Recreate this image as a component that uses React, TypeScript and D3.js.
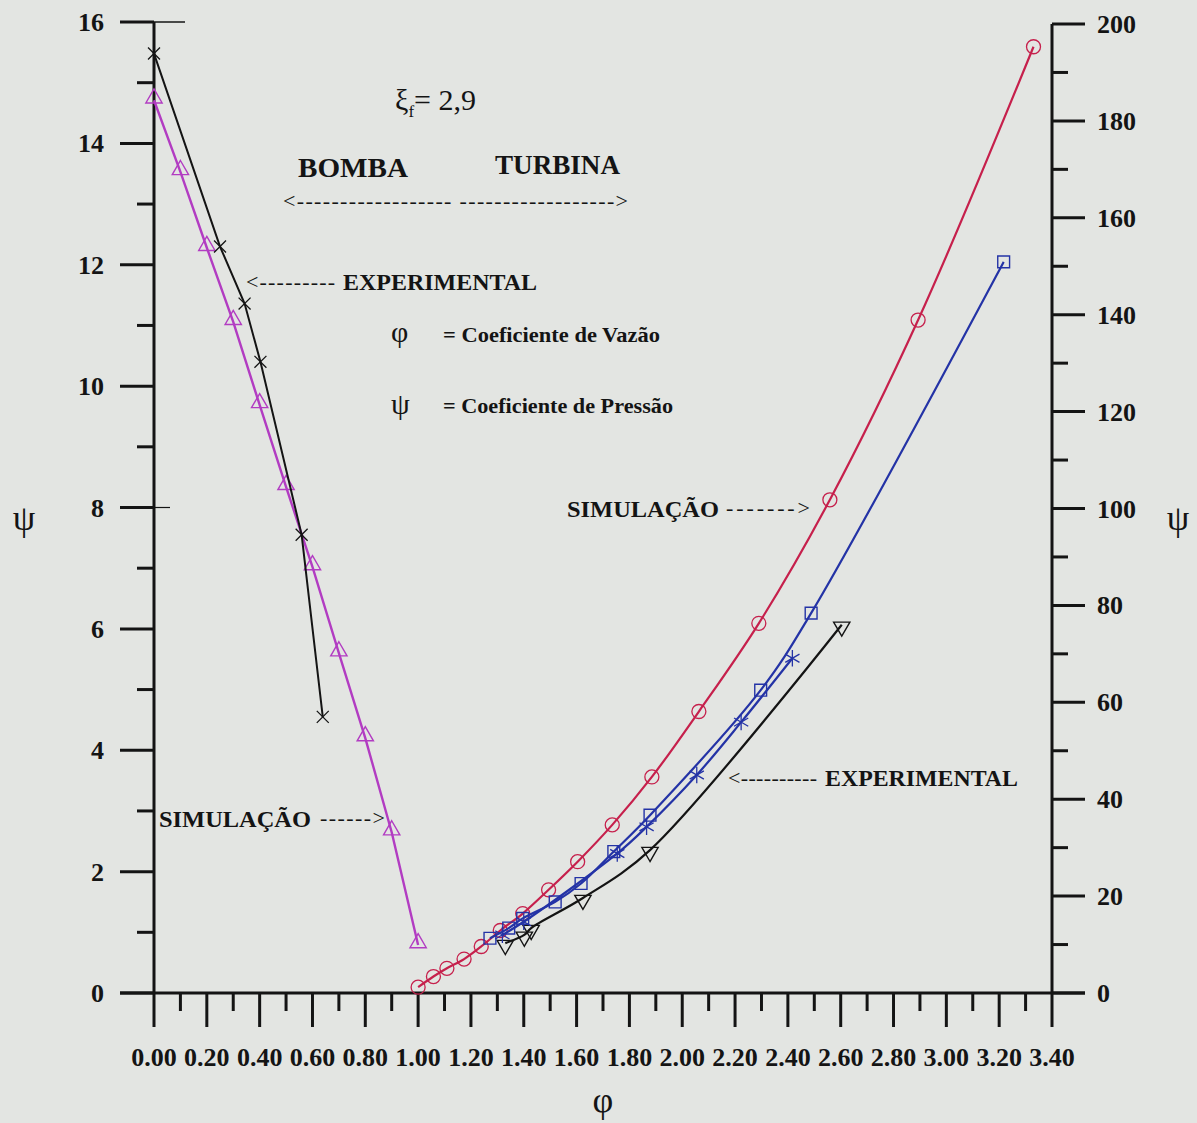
import React from "react";
import * as d3 from "d3";

// Axis tick labels
const xTickLabels = ["0.00", "0.20", "0.40", "0.60", "0.80", "1.00", "1.20", "1.40", "1.60", "1.80", "2.00", "2.20", "2.40", "2.60", "2.80", "3.00", "3.20", "3.40"];
const leftTickLabels = ["0", "2", "4", "6", "8", "10", "12", "14", "16"];
const rightTickLabels = ["0", "20", "40", "60", "80", "100", "120", "140", "160", "180", "200"];

// Pump operation (left axis): simulation (triangles) and experiment (crosses)
const pumpSimPhi = [0, 0.1, 0.2, 0.3, 0.4, 0.5, 0.6, 0.7, 0.8, 0.9, 1.0];
const pumpSimPsi = [14.71, 13.53, 12.28, 11.06, 9.69, 8.34, 7.02, 5.6, 4.2, 2.65, 0.79];
const pumpExpPhi = [0, 0.25, 0.343, 0.403, 0.559, 0.639];
const pumpExpPsi = [15.48, 12.3, 11.36, 10.4, 7.55, 4.55];

// Turbine operation (right axis)
const turbCirclePhi = [1.0, 1.058, 1.109, 1.174, 1.239, 1.311, 1.396, 1.494, 1.604, 1.735, 1.885, 2.063, 2.29, 2.559, 2.893, 3.33];
const turbCirclePsi = [1.2, 3.4, 5.1, 7.0, 9.6, 12.9, 16.4, 21.3, 27.1, 34.7, 44.6, 58.1, 76.3, 101.8, 138.9, 195.3];
const turbSquarePhi = [1.272, 1.343, 1.396, 1.519, 1.617, 1.741, 1.878, 2.297, 2.488, 3.217];
const turbSquarePsi = [11.3, 13.4, 15.4, 18.8, 22.6, 29.2, 36.7, 62.5, 78.4, 150.9];
const turbStarPhi = [1.319, 1.4, 1.754, 1.865, 2.055, 2.223, 2.417];
const turbStarPsi = [12.0, 14.7, 28.8, 34.3, 45.0, 55.9, 69.1];
const turbExpPhi = [1.33, 1.402, 1.428, 1.624, 1.878, 2.604];
const turbExpPsi = [10.3, 12.0, 13.4, 19.6, 29.5, 76.0];

const FONT = "'Liberation Serif', 'Times New Roman', serif";
const INK = "#141414";
const MAGENTA = "#b23cc2";
const RED = "#c6204c";
const BLUE = "#2433a6";

const zip = (a: number[], b: number[]) => a.map((v, i) => [v, b[i]] as [number, number]);

export default function App() {
  const W = 1197;
  const H = 1123;
  const x = d3.scaleLinear().domain([0, 3.4]).range([154, 1052]);
  const yL = d3.scaleLinear().domain([0, 16]).range([993, 22]);
  const yR = d3.scaleLinear().domain([0, 200]).range([993, 24]);

  const x0 = x(0);
  const x1 = x(3.4);
  const yb = yL(0);

  const lineL = d3.line<[number, number]>().x((d) => x(d[0])).y((d) => yL(d[1]));
  const lineR = d3
    .line<[number, number]>()
    .x((d) => x(d[0]))
    .y((d) => yR(d[1]))
    .curve(d3.curveCatmullRom.alpha(0.5));

  const triPath = d3.symbol().type(d3.symbolTriangle).size(115)() as string;
  const timesType = (d3 as any).symbolTimes ?? d3.symbolCross;
  const crossPath = d3.symbol().type(timesType).size(95)() as string;
  const squarePath = d3.symbol().type(d3.symbolSquare).size(140)() as string;
  const starType = (d3 as any).symbolAsterisk ?? d3.symbolCross;
  const starPath = d3.symbol().type(starType).size(190)() as string;

  const xMinor = d3.range(0, 35).map((i) => i / 10);
  const leftMinor = d3.range(0, 17);
  const rightMinor = d3.range(0, 201, 10);

  const pumpSim = zip(pumpSimPhi, pumpSimPsi);
  const pumpExp = zip(pumpExpPhi, pumpExpPsi);
  const circ = zip(turbCirclePhi, turbCirclePsi);
  const sq = zip(turbSquarePhi, turbSquarePsi);
  const st = zip(turbStarPhi, turbStarPsi);
  const ex = zip(turbExpPhi, turbExpPsi);

  return (
    <svg
      width={W}
      height={H}
      viewBox={`0 0 ${W} ${H}`}
      style={{ position: "absolute", left: 0, top: 0, display: "block" }}
      fontFamily={FONT}
    >
      <rect x={0} y={0} width={W} height={H} fill="#e3e5e2" />

      {/* Axes */}
      <g stroke={INK} strokeWidth={3} strokeLinecap="butt">
        <line x1={x0} y1={yL(16)} x2={x0} y2={yb} />
        <line x1={x1} y1={yR(200)} x2={x1} y2={yb} />
        <line x1={120} y1={yb} x2={1085} y2={yb} />
        {leftMinor.map((v) => (
          <line key={"l" + v} x1={v % 2 === 0 ? 120 : 137} x2={x0} y1={yL(v)} y2={yL(v)} />
        ))}
        {rightMinor.map((v) => (
          <line key={"r" + v} x1={x1} x2={v % 20 === 0 ? 1085 : 1068} y1={yR(v)} y2={yR(v)} />
        ))}
        {xMinor.map((v, i) => (
          <line key={"x" + i} x1={x(v)} x2={x(v)} y1={yb} y2={i % 2 === 0 ? yb + 34 : yb + 18} />
        ))}
      </g>
      <line x1={x0} x2={185} y1={yL(16)} y2={yL(16)} stroke={INK} strokeWidth={1.5} />
      <line x1={x0} x2={170} y1={yL(8)} y2={yL(8)} stroke={INK} strokeWidth={1.2} />

      {/* Tick labels */}
      <g fontSize={26} fontWeight="bold" fill={INK}>
        {xTickLabels.map((t) => (
          <text key={"xt" + t} x={x(+t)} y={1066} textAnchor="middle">
            {t}
          </text>
        ))}
        {leftTickLabels.map((t) => (
          <text key={"lt" + t} x={104} y={yL(+t) + 9} textAnchor="end">
            {t}
          </text>
        ))}
        {rightTickLabels.map((t) => (
          <text key={"rt" + t} x={1097} y={yR(+t) + 9} textAnchor="start">
            {t}
          </text>
        ))}
      </g>

      {/* Axis titles */}
      <g fontSize={36} fill={INK}>
        <text x={24} y={530} textAnchor="middle">ψ</text>
        <text x={1178} y={530} textAnchor="middle">ψ</text>
        <text x={603} y={1112} textAnchor="middle">φ</text>
      </g>

      {/* Pump side */}
      <path d={lineL(pumpSim) ?? ""} fill="none" stroke={MAGENTA} strokeWidth={2.4} />
      {pumpSim.map((d, i) => (
        <path key={"ps" + i} d={triPath} transform={`translate(${x(d[0])},${yL(d[1]) - 2})`} fill="none" stroke={MAGENTA} strokeWidth={1.4} />
      ))}
      <path d={lineL(pumpExp) ?? ""} fill="none" stroke={INK} strokeWidth={2} />
      {pumpExp.map((d, i) => (
        <path key={"pe" + i} d={crossPath} transform={`translate(${x(d[0])},${yL(d[1])})`} fill="none" stroke={INK} strokeWidth={1.3} />
      ))}

      {/* Turbine side */}
      <path d={lineR(circ) ?? ""} fill="none" stroke={RED} strokeWidth={2.2} />
      {circ.map((d, i) => (
        <circle key={"c" + i} cx={x(d[0])} cy={yR(d[1])} r={7} fill="none" stroke={RED} strokeWidth={1.3} />
      ))}
      <path d={lineR(ex) ?? ""} fill="none" stroke={INK} strokeWidth={2.2} />
      {ex.map((d, i) => (
        <path key={"e" + i} d={triPath} transform={`translate(${x(d[0])},${yR(d[1]) + 2}) rotate(180)`} fill="none" stroke={INK} strokeWidth={1.4} />
      ))}
      <path d={lineR(st) ?? ""} fill="none" stroke={BLUE} strokeWidth={2.2} />
      {st.map((d, i) => (
        <path key={"s" + i} d={starPath} transform={`translate(${x(d[0])},${yR(d[1])})`} fill="none" stroke={BLUE} strokeWidth={1.3} />
      ))}
      <path d={lineR(sq) ?? ""} fill="none" stroke={BLUE} strokeWidth={2.2} />
      {sq.map((d, i) => (
        <path key={"q" + i} d={squarePath} transform={`translate(${x(d[0])},${yR(d[1])})`} fill="none" stroke={BLUE} strokeWidth={1.4} />
      ))}

      {/* Annotations */}
      <g fill={INK}>
        <text x={395} y={110} fontSize={30}>
          ξ<tspan fontSize={17} dy={7}>f</tspan>
          <tspan dy={-7}>= 2,9</tspan>
        </text>
        <text x={298} y={177} fontSize={28} fontWeight="bold" textLength={110} lengthAdjust="spacingAndGlyphs">BOMBA</text>
        <text x={495} y={174} fontSize={28} fontWeight="bold" textLength={125} lengthAdjust="spacingAndGlyphs">TURBINA</text>
        <text x={283} y={208} fontSize={22} textLength={345} lengthAdjust="spacing">{"<------------------ ------------------>"}</text>

        <text x={246} y={289} fontSize={22} textLength={89} lengthAdjust="spacing">{"<---------"}</text>
        <text x={343} y={290} fontSize={24} fontWeight="bold" textLength={194} lengthAdjust="spacingAndGlyphs">EXPERIMENTAL</text>

        <text x={391} y={342} fontSize={30}>φ</text>
        <text x={443} y={342} fontSize={22} fontWeight="bold" textLength={217} lengthAdjust="spacingAndGlyphs">= Coeficiente de Vazão</text>
        <text x={391} y={414} fontSize={30}>ψ</text>
        <text x={443} y={413} fontSize={22} fontWeight="bold" textLength={230} lengthAdjust="spacingAndGlyphs">= Coeficiente de Pressão</text>

        <text x={567} y={517} fontSize={24} fontWeight="bold" textLength={152} lengthAdjust="spacingAndGlyphs">SIMULAÇÃO</text>
        <text x={726} y={515} fontSize={22} textLength={84} lengthAdjust="spacing">{"------->"}</text>
        <text x={159} y={827} fontSize={24} fontWeight="bold" textLength={152} lengthAdjust="spacingAndGlyphs">SIMULAÇÃO</text>
        <text x={320} y={825} fontSize={22} textLength={65} lengthAdjust="spacing">{"------>"}</text>

        <text x={728} y={785} fontSize={22} textLength={89} lengthAdjust="spacing">{"<----------"}</text>
        <text x={825} y={786} fontSize={24} fontWeight="bold" textLength={193} lengthAdjust="spacingAndGlyphs">EXPERIMENTAL</text>
      </g>
    </svg>
  );
}
